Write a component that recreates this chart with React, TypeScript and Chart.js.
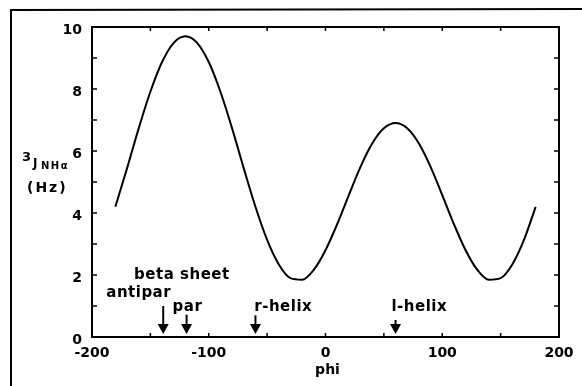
import { useEffect, useRef } from 'react';
import { Chart, registerables } from 'chart.js';

Chart.register(...registerables);

// Backbone dihedral angle phi (degrees) and the 3J(NH-Halpha) coupling (Hz)
const phi = [
  -180, -170, -160, -150, -140, -130, -120, -110, -100, -90, -80, -70, -60,
  -50, -40, -30, -20, -10, 0, 10, 20, 30, 40, 50, 60, 70, 80, 90, 100, 110,
  120, 130, 140, 150, 160, 170, 180,
];
const jCoupling = [
  4.2, 5.44, 6.73, 7.91, 8.87, 9.49, 9.7, 9.49, 8.87, 7.91, 6.73, 5.44, 4.2,
  3.13, 2.34, 1.9, 1.85, 2.17, 2.8, 3.64, 4.58, 5.49, 6.24, 6.73, 6.9, 6.73,
  6.24, 5.49, 4.58, 3.64, 2.8, 2.17, 1.85, 1.9, 2.34, 3.13, 4.2,
];

// Axis tick labels
const xTickLabels = [-200, -100, 0, 100, 200];
const yTickLabels = [0, 2, 4, 6, 8, 10];

// Secondary-structure phi markers
const markerNames = ['antipar', 'par', 'r-helix', 'l-helix'];
const markerPhi = [-139, -119, -60, 60];
const groupHeading = 'beta sheet';

// Label placement for the markers (phi, J, alignment) and arrow stem tops (J)
const markerLabelPlacement = [
  { x: -160, y: 1.42, align: 'center' },
  { x: -131, y: 0.95, align: 'left' },
  { x: -61, y: 0.95, align: 'left' },
  { x: 56.5, y: 0.95, align: 'left' },
];
const markerStemTop = [1.0, 0.72, 0.7, 0.55];
const headingPlacement = { x: -123, y: 2.0 };

const FONT = '"DejaVu Sans", "Liberation Sans", Arial, sans-serif';

const decorPlugin = {
  id: 'decor',
  beforeDraw(chart: any) {
    const ctx = chart.ctx as CanvasRenderingContext2D;
    ctx.save();
    ctx.fillStyle = '#fff';
    ctx.fillRect(0, 0, chart.width, chart.height);
    // page frame on the left and top
    ctx.strokeStyle = '#000';
    ctx.lineWidth = 2;
    ctx.beginPath();
    ctx.moveTo(11, 386);
    ctx.lineTo(11, 10);
    ctx.lineTo(582, 9);
    ctx.stroke();
    ctx.restore();
  },
  afterDatasetsDraw(chart: any) {
    const ctx = chart.ctx as CanvasRenderingContext2D;
    const { left, right, top, bottom } = chart.chartArea;
    const xs = chart.scales.x;
    const ys = chart.scales.y;
    ctx.save();
    ctx.strokeStyle = '#000';
    ctx.fillStyle = '#000';

    // plot box
    ctx.lineWidth = 2;
    ctx.strokeRect(left, top, right - left, bottom - top);

    // inward tick marks
    ctx.lineWidth = 1.5;
    ctx.beginPath();
    for (let v = -150; v <= 150; v += 50) {
      const px = xs.getPixelForValue(v);
      ctx.moveTo(px, bottom);
      ctx.lineTo(px, bottom - 4);
      ctx.moveTo(px, top);
      ctx.lineTo(px, top + 4);
    }
    for (let v = 1; v < 10; v++) {
      const py = ys.getPixelForValue(v);
      ctx.moveTo(left, py);
      ctx.lineTo(left + 5, py);
      ctx.moveTo(right, py);
      ctx.lineTo(right - 5, py);
    }
    ctx.stroke();

    // marker arrows
    const tipY = ys.getPixelForValue(0.1);
    markerPhi.forEach((p, i) => {
      const px = xs.getPixelForValue(p);
      const sy = ys.getPixelForValue(markerStemTop[i]);
      ctx.lineWidth = 2;
      ctx.beginPath();
      ctx.moveTo(px, sy);
      ctx.lineTo(px, tipY - 8);
      ctx.stroke();
      ctx.beginPath();
      ctx.moveTo(px - 5.5, tipY - 10);
      ctx.lineTo(px + 5.5, tipY - 10);
      ctx.lineTo(px, tipY);
      ctx.closePath();
      ctx.fill();
    });

    // marker labels
    ctx.font = `bold 15px ${FONT}`;
    ctx.textBaseline = 'middle';
    (ctx as any).letterSpacing = '0.5px';
    markerNames.forEach((name, i) => {
      const pl = markerLabelPlacement[i];
      ctx.textAlign = pl.align as CanvasTextAlign;
      ctx.fillText(name, xs.getPixelForValue(pl.x), ys.getPixelForValue(pl.y));
    });
    ctx.textAlign = 'center';
    ctx.fillText(
      groupHeading,
      xs.getPixelForValue(headingPlacement.x),
      ys.getPixelForValue(headingPlacement.y)
    );

    // x axis title
    (ctx as any).letterSpacing = '0px';
    ctx.font = `bold 14px ${FONT}`;
    ctx.textAlign = 'center';
    ctx.fillText('phi', (left + right) / 2 + 2, 370);

    // y axis title: 3J(NH-alpha) (Hz)
    ctx.textAlign = 'left';
    ctx.textBaseline = 'alphabetic';
    ctx.font = `bold 13px ${FONT}`;
    ctx.fillText('3', 22, 161);
    ctx.font = `bold 12px ${FONT}`;
    ctx.fillText('J', 33, 167);
    ctx.font = `bold 10px ${FONT}`;
    (ctx as any).letterSpacing = '1.5px';
    ctx.fillText('NH\u03b1', 41, 169);
    ctx.font = `bold 14px ${FONT}`;
    (ctx as any).letterSpacing = '2px';
    ctx.fillText('(Hz)', 27, 192);
    ctx.restore();
  },
};

export default function App() {
  const canvasRef = useRef<HTMLCanvasElement | null>(null);

  useEffect(() => {
    document.body.style.margin = '0';
    const canvas = canvasRef.current;
    if (!canvas) return;
    const chart = new Chart(canvas, {
      type: 'line',
      data: {
        datasets: [
          {
            data: phi.map((p, i) => ({ x: p, y: jCoupling[i] })),
            borderColor: '#000',
            borderWidth: 2,
            pointRadius: 0,
            cubicInterpolationMode: 'monotone',
            fill: false,
          },
        ],
      },
      options: {
        responsive: false,
        devicePixelRatio: 1,
        animation: false,
        layout: { padding: { left: 0, top: 27, right: 23, bottom: 0 } },
        plugins: {
          legend: { display: false },
          tooltip: { enabled: false },
        },
        scales: {
          x: {
            type: 'linear',
            min: -200,
            max: 200,
            grid: { display: false, drawTicks: false, tickLength: 0 },
            border: { display: false },
            afterBuildTicks: (scale: any) => {
              scale.ticks = xTickLabels.map((v) => ({ value: v }));
            },
            afterFit: (scale: any) => {
              scale.height = 49;
            },
            ticks: {
              color: '#000',
              padding: 8,
              maxRotation: 0,
              autoSkip: false,
              font: { family: FONT, size: 14, weight: 'bold' },
              callback: (v: any) => String(v),
            },
          },
          y: {
            type: 'linear',
            min: 0,
            max: 10,
            grid: { display: false, drawTicks: false, tickLength: 0 },
            border: { display: false },
            afterBuildTicks: (scale: any) => {
              scale.ticks = yTickLabels.map((v) => ({ value: v }));
            },
            afterFit: (scale: any) => {
              scale.width = 92;
            },
            ticks: {
              color: '#000',
              padding: 10,
              labelOffset: 3,
              autoSkip: false,
              font: { family: FONT, size: 14, weight: 'bold' },
              callback: (v: any) => String(v),
            },
          },
        },
      },
      plugins: [decorPlugin],
    } as any);
    return () => chart.destroy();
  }, []);

  return (
    <canvas
      ref={canvasRef}
      width={582}
      height={386}
      style={{ display: 'block', width: 582, height: 386 }}
    />
  );
}
